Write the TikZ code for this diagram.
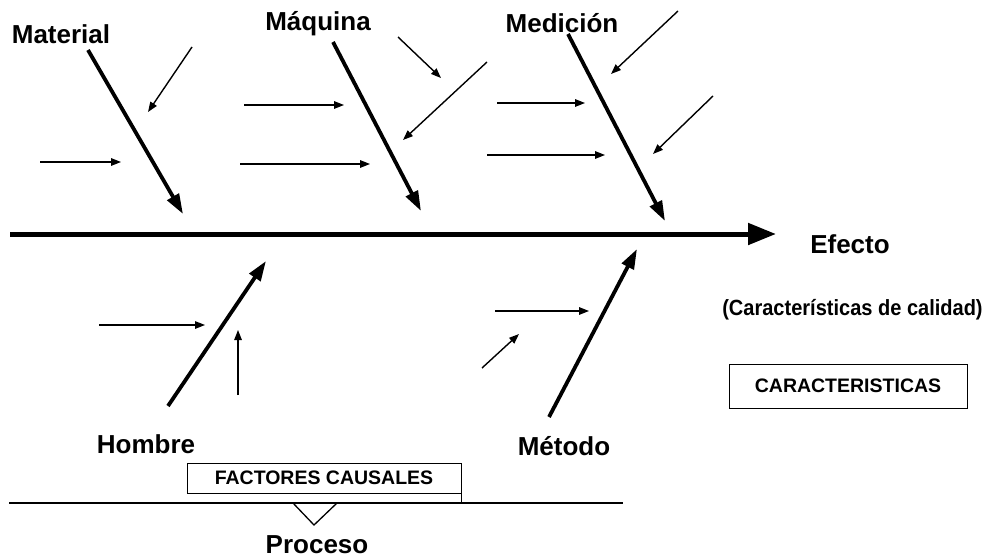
\documentclass[tikz,border=0pt]{standalone}
\usepackage{fontspec}
\setmainfont{Liberation Sans}
\usetikzlibrary{arrows.meta}
\tikzset{
  bone/.style={line width=3.8pt,-{Triangle[length=20pt,width=13pt]}},
  smallarrow/.style={line width=1.4pt,-{Triangle[length=10pt,width=7.5pt]}},
  spineline/.style={line width=5pt,-{Triangle[length=28pt,width=21pt]}},
  biglabel/.style={font=\fontsize{26}{30}\selectfont\bfseries,inner sep=0pt,anchor=base},
  midlabel/.style={font=\fontsize{22}{26}\selectfont\bfseries,inner sep=0pt,anchor=base},
  boxlabel/.style={draw,line width=1pt,font=\fontsize{19.5}{23}\selectfont\bfseries,inner sep=0pt}
}
\begin{document}
\begin{tikzpicture}[x=1pt,y=-1pt]
\useasboundingbox (0,0) rectangle (987,557);
% labels
\node[biglabel] (material) at (61,43) {Material};
\node[biglabel] (maquina) at (318,30) {Máquina};
\node[biglabel] (medicion) at (562,32) {Medición};
\node[biglabel] (efecto) at (850,253) {Efecto};
\node[biglabel] (hombre) at (146,453) {Hombre};
\node[biglabel] (metodo) at (564,455) {Método};
\node[biglabel] (proceso) at (317,553) {Proceso};
\node[midlabel,xscale=0.91] (calidad) at (852.5,315) {(Características de calidad)};
\node[boxlabel,minimum width=238pt,minimum height=44pt] (carac) at (848,386) {CARACTERISTICAS};
\node[boxlabel,minimum width=274pt,minimum height=30pt] (factores) at (324,478) {FACTORES CAUSALES};
% spine
\coordinate (sp0) at (10,234);
\coordinate (sp1) at (776,234);
\draw[spineline] (sp0) -- (sp1);
% main bones
\coordinate (b1s) at (88,50);   \coordinate (b1e) at (183,214);
\coordinate (b2s) at (333,42);  \coordinate (b2e) at (421,211);
\coordinate (b3s) at (568,34);  \coordinate (b3e) at (665,221);
\coordinate (b4s) at (168,406); \coordinate (b4e) at (266,261);
\coordinate (b5s) at (549,417); \coordinate (b5e) at (637,249);
\draw[bone] (b1s) -- (b1e);
\draw[bone] (b2s) -- (b2e);
\draw[bone] (b3s) -- (b3e);
\draw[bone] (b4s) -- (b4e);
\draw[bone] (b5s) -- (b5e);
% small arrows - Material
\coordinate (a1s) at (192,47);  \coordinate (a1e) at (148,112);
\coordinate (a2s) at (40,162);  \coordinate (a2e) at (121,162);
% Maquina
\coordinate (a3s) at (244,105); \coordinate (a3e) at (344,105);
\coordinate (a4s) at (240,164); \coordinate (a4e) at (370,164);
\coordinate (a5s) at (398,37);  \coordinate (a5e) at (441,78);
\coordinate (a6s) at (487,62);  \coordinate (a6e) at (403,140);
% Medicion
\coordinate (a7s) at (678,11);  \coordinate (a7e) at (611,74);
\coordinate (a8s) at (497,103); \coordinate (a8e) at (585,103);
\coordinate (a9s) at (487,155); \coordinate (a9e) at (605,155);
\coordinate (a10s) at (713,96); \coordinate (a10e) at (653,154);
% Hombre
\coordinate (a11s) at (99,325);  \coordinate (a11e) at (205,325);
\coordinate (a12s) at (238,395); \coordinate (a12e) at (238,330);
% Metodo
\coordinate (a13s) at (495,311); \coordinate (a13e) at (589,311);
\coordinate (a14s) at (482,368); \coordinate (a14e) at (519,334);
\foreach \i in {1,...,14}{\draw[smallarrow] (a\i s) -- (a\i e);}
% process line
\coordinate (pl0) at (9,503);
\coordinate (pl1) at (623,503);
\coordinate (v1) at (293,503);
\coordinate (v2) at (314,525);
\coordinate (v3) at (337,503);
\coordinate (fx) at (factores.south east |- pl0);
\draw[line width=1.3pt] (pl0) -- (pl1);
\draw[line width=1.3pt] (v1) -- (v2) -- (v3);
\draw[line width=1pt] (factores.south east) -- (fx);
\end{tikzpicture}
\end{document}
